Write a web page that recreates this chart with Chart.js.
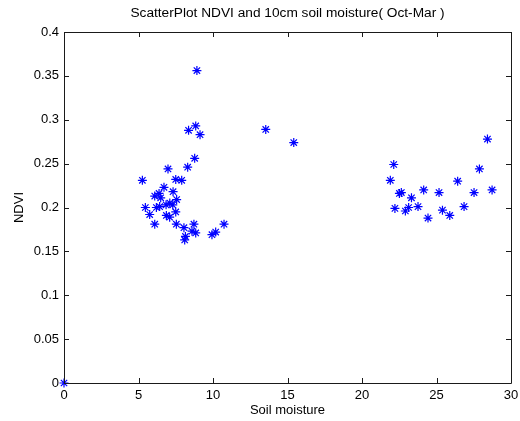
<!DOCTYPE html>
<html>
<head>
<meta charset="utf-8">
<script src="https://cdn.jsdelivr.net/npm/chart.js@4.4.1/dist/chart.umd.min.js"></script>
<style>
  html, body { margin: 0; padding: 0; background: #fff; }
  #wrap { width: 520px; height: 421px; }
</style>
</head>
<body>
<div id="wrap"><canvas id="scatterChart" width="520" height="421"></canvas></div>
<script>
// soil moisture (x) and NDVI (y), one entry per observation
const soilMoisture = [
    0,
    8.92, 8.84, 8.36, 9.13, 8.77, 6.98, 8.30, 5.26, 7.50, 7.90,
    6.71, 7.32, 6.38, 6.09, 6.49, 7.56, 7.10, 6.85, 7.30, 5.46,
    6.20, 6.42, 7.50, 5.75, 6.87, 7.09, 6.09, 7.54, 8.05, 8.72,
    8.59, 8.84, 8.15, 8.10, 10.74, 10.18, 9.93,
    13.54, 15.42,
    28.42, 22.13, 27.88, 21.90, 26.42, 22.51, 22.64, 23.32, 24.14, 25.17,
    27.52, 28.73, 22.21, 22.91, 23.13, 23.76, 24.43, 25.40, 25.89, 26.85
];
const ndvi = [
    0,
    0.356, 0.293, 0.288, 0.283, 0.256, 0.244, 0.246, 0.231, 0.232, 0.231,
    0.223, 0.218, 0.216, 0.213, 0.211, 0.209, 0.205, 0.203, 0.203, 0.200,
    0.200, 0.201, 0.195, 0.192, 0.191, 0.189, 0.181, 0.181, 0.177, 0.181,
    0.173, 0.171, 0.167, 0.163, 0.181, 0.172, 0.169,
    0.289, 0.274,
    0.278, 0.249, 0.244, 0.231, 0.230, 0.216, 0.217, 0.211, 0.220, 0.217,
    0.217, 0.220, 0.199, 0.196, 0.200, 0.201, 0.188, 0.197, 0.191, 0.201
];
const xTicks = [0, 5, 10, 15, 20, 25, 30];
const yTicks = [0, 0.05, 0.1, 0.15, 0.2, 0.25, 0.3, 0.35, 0.4];
const yTickLabels = ['0', '0.05', '0.1', '0.15', '0.2', '0.25', '0.3', '0.35', '0.4'];
const chartTitle = 'ScatterPlot NDVI and 10cm soil moisture( Oct-Mar )';

const points = soilMoisture.map((x, i) => ({ x: x, y: ndvi[i] }));

const fontFamily = 'Liberation Sans, Arial, sans-serif';
const labelFont = { family: fontFamily, size: 13 };

// title centred over the plot area rather than the whole canvas
const plotTitle = {
    id: 'plotTitle',
    afterDraw(chart) {
        const { ctx, chartArea: a } = chart;
        ctx.save();
        ctx.fillStyle = '#000';
        ctx.font = '13.7px ' + fontFamily;
        ctx.textAlign = 'center';
        ctx.textBaseline = 'middle';
        ctx.fillText(chartTitle, (a.left + a.right) / 2, 13);
        ctx.restore();
    }
};

// box around the plot with inward tick marks on all four sides
const boxTicks = {
    id: 'boxTicks',
    afterDraw(chart) {
        const { ctx, chartArea: a, scales } = chart;
        const len = 5;
        ctx.save();
        ctx.strokeStyle = '#1a1a1a';
        ctx.lineWidth = 1;
        ctx.beginPath();
        ctx.rect(Math.round(a.left) + 0.5, Math.round(a.top) + 0.5,
            Math.round(a.right - a.left), Math.round(a.bottom - a.top));
        xTicks.forEach(v => {
            const px = Math.round(scales.x.getPixelForValue(v)) + 0.5;
            ctx.moveTo(px, a.bottom); ctx.lineTo(px, a.bottom - len);
            ctx.moveTo(px, a.top); ctx.lineTo(px, a.top + len);
        });
        yTicks.forEach(v => {
            const py = Math.round(scales.y.getPixelForValue(v)) + 0.5;
            ctx.moveTo(a.left, py); ctx.lineTo(a.left + len, py);
            ctx.moveTo(a.right, py); ctx.lineTo(a.right - len, py);
        });
        ctx.stroke();
        ctx.restore();
    }
};

new Chart(document.getElementById('scatterChart'), {
    type: 'scatter',
    data: {
        datasets: [{
            label: 'NDVI',
            data: points,
            pointStyle: 'star',
            pointRadius: 4.5,
            pointHoverRadius: 4.5,
            borderColor: '#0000ff',
            backgroundColor: '#0000ff',
            borderWidth: 1.2,
            clip: false
        }]
    },
    options: {
        responsive: false,
        animation: false,
        layout: { padding: { top: 32, right: 9, bottom: 0, left: 0 } },
        plugins: {
            legend: { display: false },
            tooltip: { enabled: false },
            title: { display: false }
        },
        scales: {
            x: {
                type: 'linear',
                min: 0,
                max: 30,
                afterBuildTicks: s => { s.ticks = xTicks.map(v => ({ value: v })); },
                afterFit: s => { s.height = 38; s.paddingLeft = 0; s.paddingRight = 0; },
                grid: { display: false, drawTicks: false },
                border: { display: false },
                ticks: { color: '#000', font: labelFont, padding: 5, maxRotation: 0 },
                title: {
                    display: true,
                    text: 'Soil moisture',
                    color: '#000',
                    font: labelFont,
                    padding: { top: 0, bottom: 3 }
                }
            },
            y: {
                type: 'linear',
                min: 0,
                max: 0.4,
                afterBuildTicks: s => { s.ticks = yTicks.map(v => ({ value: v })); },
                afterFit: s => { s.width = 64; s.paddingTop = 0; s.paddingBottom = 0; },
                grid: { display: false, drawTicks: false },
                border: { display: false },
                ticks: {
                    color: '#000',
                    font: labelFont,
                    padding: 5,
                    callback: v => yTickLabels[yTicks.indexOf(v)] ?? String(v)
                },
                title: {
                    display: true,
                    text: 'NDVI',
                    color: '#000',
                    font: labelFont,
                    padding: { top: 12, bottom: 0 }
                }
            }
        }
    },
    plugins: [boxTicks, plotTitle]
});
</script>
</body>
</html>
